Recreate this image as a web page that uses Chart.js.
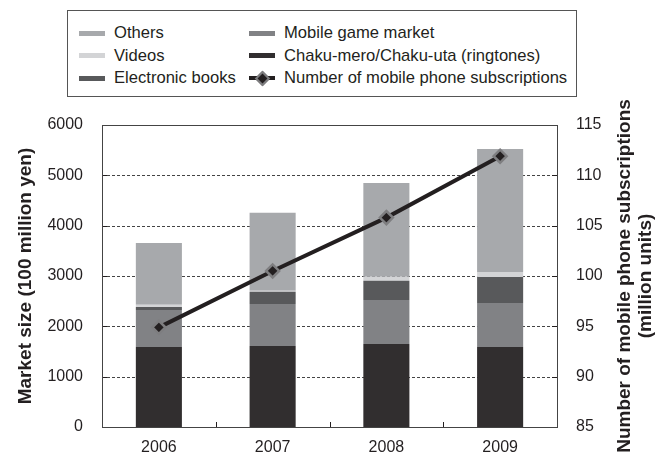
<!DOCTYPE html>
<html>
<head>
<meta charset="utf-8">
<script src="https://cdn.jsdelivr.net/npm/chart.js@4/dist/chart.umd.min.js"></script>
<style>
  html, body { margin: 0; padding: 0; background: #fff; }
  #wrap { position: relative; width: 662px; height: 455px; overflow: hidden; font-family: "Liberation Sans", Arial, sans-serif; }
  #c { position: absolute; left: 0; top: 0; }
  #legend { position: absolute; left: 67px; top: 10px; width: 510px; height: 87px; border: 1px solid #555; box-sizing: border-box; background: #fff; }
  .li { position: absolute; font-size: 16.6px; color: #231f20; line-height: 18px; white-space: nowrap; }
  .sw { position: absolute; width: 26px; height: 5px; }
</style>
</head>
<body>
<div id="wrap">
  <canvas id="c" width="662" height="455"></canvas>
  <div id="legend"></div>
</div>
<script>
const categories = ['2006', '2007', '2008', '2009'];
const ringtones = [1590, 1610, 1650, 1590];
const mobileGame = [735, 835, 875, 875];
const ebooks = [60, 240, 380, 515];
const videos = [45, 20, 80, 100];
const others = [1225, 1550, 1865, 2445];
const subscriptions = [94.9, 100.5, 105.8, 111.9];

const leftTicks = [0, 1000, 2000, 3000, 4000, 5000, 6000];
const rightTicks = [85, 90, 95, 100, 105, 110, 115];

const labels = {
  others: 'Others',
  videos: 'Videos',
  ebooks: 'Electronic books',
  game: 'Mobile game market',
  ring: 'Chaku-mero/Chaku-uta (ringtones)',
  subs: 'Number of mobile phone subscriptions'
};
const colors = {
  others: '#a7a9ac',
  videos: '#d3d4d6',
  ebooks: '#58595b',
  game: '#818285',
  ring: '#312e2f',
  line: '#231f20',
  marker: '#7e7e80'
};

// HTML legend
const legend = document.getElementById('legend');
const legendItems = [
  ['others', 0, 0], ['videos', 0, 1], ['ebooks', 0, 2],
  ['game', 1, 0], ['ring', 1, 1], ['subs', 1, 2]
];
legendItems.forEach(([k, col, row]) => {
  const x0 = col === 0 ? 11 : 181;
  const yc = 22 + row * 22.5;
  if (k === 'subs') {
    const ln = document.createElement('div');
    ln.style.cssText = `position:absolute;left:${x0}px;top:${yc - 2}px;width:26px;height:4px;background:${colors.line};`;
    legend.appendChild(ln);
    const d = document.createElement('div');
    d.style.cssText = `position:absolute;left:${x0 + 8}px;top:${yc - 5}px;width:7px;height:7px;background:${colors.line};border:2px solid ${colors.marker};transform:rotate(45deg);box-sizing:content-box;`;
    legend.appendChild(d);
  } else {
    const s = document.createElement('div');
    s.className = 'sw';
    s.style.left = x0 + 'px';
    s.style.top = (yc - 2.5) + 'px';
    s.style.background = colors[k];
    legend.appendChild(s);
  }
  const t = document.createElement('div');
  t.className = 'li';
  t.textContent = labels[k];
  t.style.left = (x0 + 35) + 'px';
  t.style.top = (yc - 9) + 'px';
  legend.appendChild(t);
});

const boxPlugin = {
  id: 'boxPlugin',
  beforeDatasetsDraw(chart) {
    const { ctx, chartArea: a, scales } = chart;
    ctx.save();
    ctx.strokeStyle = '#444';
    ctx.lineWidth = 1;
    ctx.setLineDash([3, 2]);
    ctx.beginPath();
    leftTicks.slice(1, -1).forEach(v => {
      const y = Math.round(scales.y.getPixelForValue(v)) + 0.5;
      ctx.moveTo(a.left, y); ctx.lineTo(a.right, y);
    });
    ctx.stroke();
    ctx.restore();
  },
  afterDatasetsDraw(chart) {
    const { ctx, chartArea: a, scales } = chart;
    ctx.save();
    ctx.strokeStyle = '#231f20';
    ctx.lineWidth = 1;
    ctx.beginPath();
    leftTicks.forEach(v => {
      const y = Math.round(scales.y.getPixelForValue(v)) + 0.5;
      ctx.moveTo(a.left, y); ctx.lineTo(a.left + 5, y);
    });
    rightTicks.forEach(v => {
      const y = Math.round(scales.y1.getPixelForValue(v)) + 0.5;
      ctx.moveTo(a.right, y); ctx.lineTo(a.right - 5, y);
    });
    for (let i = 0; i < categories.length - 1; i++) {
      const x = Math.round((scales.x.getPixelForValue(i) + scales.x.getPixelForValue(i + 1)) / 2) + 0.5;
      ctx.moveTo(x, a.bottom); ctx.lineTo(x, a.bottom - 5);
    }
    ctx.stroke();
    ctx.strokeStyle = '#444';
    ctx.strokeRect(Math.round(a.left) + 0.5, Math.round(a.top) + 0.5, Math.round(a.right - a.left), Math.round(a.bottom - a.top));
    ctx.restore();
  },
  afterDraw(chart) {
    const { ctx, chartArea: a } = chart;
    ctx.save();
    ctx.fillStyle = '#231f20';
    ctx.font = 'bold 19px "Liberation Sans", Arial, sans-serif';
    ctx.textAlign = 'center';
    ctx.textBaseline = 'middle';
    const cy = (a.top + a.bottom) / 2;
    ctx.translate(625, cy);
    ctx.rotate(-Math.PI / 2);
    ctx.fillText('Number of mobile phone subscriptions', 0, 0);
    ctx.fillText('(million units)', 0, 21);
    ctx.restore();
  }
};

const barDs = (label, data, color) => ({
  type: 'bar', label, data, backgroundColor: color, borderWidth: 0,
  yAxisID: 'y', stack: 's', order: 1,
  barPercentage: 0.405, categoryPercentage: 1.0
});

const tickFont = { size: 16, family: '"Liberation Sans", Arial, sans-serif' };

new Chart(document.getElementById('c'), {
  data: {
    labels: categories,
    datasets: [
      {
        type: 'line', label: labels.subs, data: subscriptions, yAxisID: 'y1', order: 0,
        borderColor: colors.line, borderWidth: 4, tension: 0,
        pointStyle: 'rectRot', pointRadius: 6.5, pointBorderWidth: 2.5,
        pointBackgroundColor: colors.line, pointBorderColor: colors.marker
      },
      barDs(labels.ring, ringtones, colors.ring),
      barDs(labels.game, mobileGame, colors.game),
      barDs(labels.ebooks, ebooks, colors.ebooks),
      barDs(labels.videos, videos, colors.videos),
      barDs(labels.others, others, colors.others)
    ]
  },
  options: {
    responsive: false,
    animation: false,
    devicePixelRatio: 1,
    layout: { padding: { top: 125, left: 0, right: 0, bottom: 0 } },
    plugins: { legend: { display: false }, tooltip: { enabled: false } },
    scales: {
      x: {
        stacked: true,
        afterFit(s) { s.height = 28; },
        grid: { display: false },
        border: { display: false },
        ticks: { color: '#231f20', font: tickFont, padding: 3 }
      },
      y: {
        stacked: true, position: 'left', min: 0, max: 6000,
        afterBuildTicks(s) { s.ticks = leftTicks.map(v => ({ value: v })); },
        afterFit(s) { s.width = 102; },
        grid: { display: false },
        border: { display: false },
        ticks: { color: '#231f20', font: tickFont, padding: 11, callback: v => String(v) },
        title: { display: true, text: 'Market size (100 million yen)', color: '#231f20',
          font: { size: 19, weight: 'bold', family: '"Liberation Sans", Arial, sans-serif' }, padding: { top: 14, bottom: 0 } }
      },
      y1: {
        position: 'right', min: 85, max: 115,
        afterBuildTicks(s) { s.ticks = rightTicks.map(v => ({ value: v })); },
        afterFit(s) { s.width = 105; },
        grid: { display: false },
        border: { display: false },
        ticks: { color: '#231f20', font: tickFont, padding: 11, callback: v => String(v) }
      }
    }
  },
  plugins: [boxPlugin]
});
</script>
</body>
</html>
